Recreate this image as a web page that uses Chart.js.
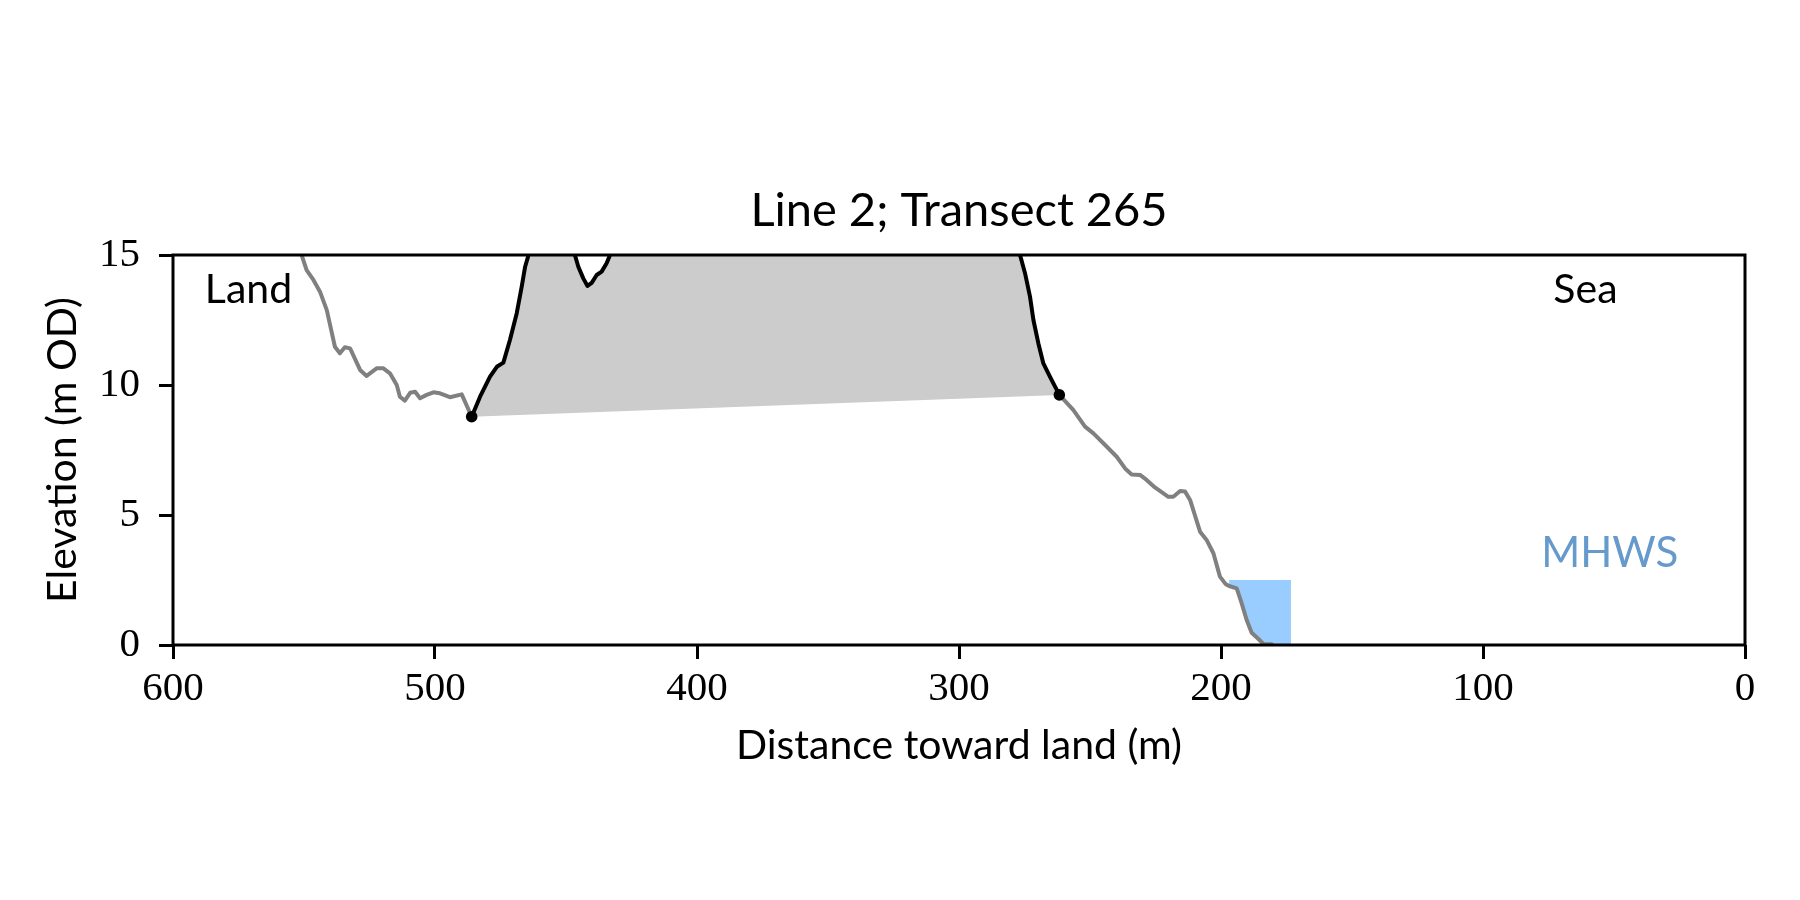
<!DOCTYPE html>
<html>
<head>
<meta charset="utf-8">
<script src="https://cdn.jsdelivr.net/npm/chart.js@4.4.1/dist/chart.umd.min.js"></script>
<style>
  html, body { margin: 0; padding: 0; background: #ffffff; }
  #wrap { width: 1800px; height: 900px; }
</style>
</head>
<body>
<div id="wrap"><canvas id="c" width="1800" height="900"></canvas></div>
<script>
// ---------- data (distance toward land in m, elevation in m OD) ----------
const landX = [550.9, 549.0, 546.4, 543.9, 541.3, 538.2, 536.3, 534.4, 532.4, 528.6, 526.1, 522.3, 519.7, 517.2, 514.6, 513.4, 511.5, 509.5, 507.6, 505.7, 503.2, 500.6, 498.1, 494.3, 489.8, 486.0];
const landY = [15.0, 14.42, 14.04, 13.59, 12.88, 11.47, 11.22, 11.45, 11.41, 10.58, 10.35, 10.64, 10.64, 10.45, 10.0, 9.55, 9.40, 9.70, 9.74, 9.49, 9.62, 9.72, 9.68, 9.53, 9.64, 8.78];

const cliffX = [486.0, 482.8, 479.0, 476.4, 473.9, 471.4, 468.8, 466.9, 465.6, 464.3, 455.0, 446.6, 445.3, 443.4, 441.8, 440.2, 438.3, 436.4, 434.5, 433.2, 420.0, 300.0, 276.7, 274.8, 272.9, 271.6, 269.7, 267.8, 265.3, 261.7];
const cliffY = [8.78, 9.55, 10.32, 10.70, 10.86, 11.73, 12.76, 13.78, 14.55, 15.0, 16.0, 15.0, 14.55, 14.10, 13.81, 13.93, 14.23, 14.36, 14.68, 15.0, 16.0, 16.0, 15.0, 14.30, 13.40, 12.50, 11.60, 10.83, 10.32, 9.62];

const seaX = [261.7, 256.4, 251.9, 248.7, 244.9, 239.8, 236.6, 234.1, 230.9, 228.4, 225.2, 220.1, 218.2, 215.6, 213.7, 211.8, 208.0, 205.5, 202.9, 200.4, 198.3, 196.9, 194.0, 192.1, 190.2, 188.3, 185.7, 183.8, 180.6];
const seaY = [9.62, 9.04, 8.40, 8.14, 7.76, 7.24, 6.79, 6.56, 6.54, 6.35, 6.06, 5.70, 5.70, 5.92, 5.90, 5.58, 4.36, 4.04, 3.53, 2.63, 2.35, 2.27, 2.18, 1.60, 0.96, 0.47, 0.23, 0.04, 0.03];

const toeX = [486.0, 261.7];   // cliff toe points (dots)
const toeY = [8.78, 9.62];

const mhwsX = [196.9, 173.3];  // MHWS water level extent
const mhwsY = [2.5, 2.5];

const xTicks = [600, 500, 400, 300, 200, 100, 0];
const yTicks = [0, 5, 10, 15];

const titleText = 'Line 2; Transect 265';
const xLabel = 'Distance toward land (m)';
const yLabel = 'Elevation (m OD)';

// ---------- helpers ----------
const pts = (xs, ys) => xs.map((x, i) => ({x: x, y: ys[i]}));
const seabedX = seaX.filter(x => x <= mhwsX[0]).concat([mhwsX[1]]);
const seabedY = seaY.filter((y, i) => seaX[i] <= mhwsX[0]).concat([0]);

const SANS = 'Lato, "Open Sans", sans-serif';
const SERIF = '"Liberation Serif", "DejaVu Serif", serif';

const framePlugin = {
  id: 'frame',
  afterDatasetsDraw(chart) {
    const {ctx, chartArea: a} = chart;
    ctx.save();
    ctx.strokeStyle = '#000';
    ctx.lineWidth = 3;
    ctx.strokeRect(a.left, a.top, a.right - a.left, a.bottom - a.top);
    const w = a.right - a.left, h = a.bottom - a.top;
    // title centred over the axes
    ctx.font = '47px ' + SANS;
    ctx.textAlign = 'center';
    ctx.textBaseline = 'middle';
    ctx.fillStyle = '#000';
    ctx.fillText(titleText, (a.left + a.right) / 2, a.top - 44);
    // annotations
    ctx.font = '41px ' + SANS;
    ctx.textBaseline = 'alphabetic';
    ctx.fillText('Land', a.left + 0.048 * w, a.top + 0.123 * h);
    ctx.fillText('Sea', a.left + 0.8985 * w, a.top + 0.123 * h);
    ctx.fillStyle = '#6699cc';
    ctx.font = '42px ' + SANS;
    ctx.fillText('MHWS', a.left + 0.914 * w, a.top + 0.80 * h);
    ctx.restore();
  }
};

const none = 'rgba(0,0,0,0)';

new Chart(document.getElementById('c'), {
  type: 'line',
  data: {
    datasets: [
      { // 0: chord joining the cliff toes (lower edge of grey fill)
        data: pts(toeX, toeY), borderColor: none, borderWidth: 1, pointRadius: 0,
        fill: false, order: 9, clip: 0
      },
      { // 1: cliff profile
        data: pts(cliffX, cliffY), borderColor: '#000000', borderWidth: 4, pointRadius: 0,
        fill: {target: 0, above: '#cccccc', below: '#cccccc'}, order: 3, clip: 0
      },
      { // 2: land profile
        data: pts(landX, landY), borderColor: '#808080', borderWidth: 4, pointRadius: 0,
        fill: false, order: 4, clip: 0
      },
      { // 3: sea profile
        data: pts(seaX, seaY), borderColor: '#808080', borderWidth: 4, pointRadius: 0,
        fill: false, order: 4, clip: 0
      },
      { // 4: seabed below MHWS (invisible)
        data: pts(seabedX, seabedY), borderColor: none, borderWidth: 1, pointRadius: 0,
        fill: false, order: 10, clip: 0
      },
      { // 5: MHWS level, filled down to the seabed
        data: pts(mhwsX, mhwsY), borderColor: none, borderWidth: 1, pointRadius: 0,
        fill: {target: 4, above: '#99ccff', below: '#99ccff'}, order: 8, clip: 0
      },
      { // 6: cliff toe dots
        data: pts(toeX, toeY), showLine: false, pointRadius: 5.8, pointBorderWidth: 0,
        pointBackgroundColor: '#000000', borderColor: none, order: 0, clip: 0
      }
    ]
  },
  options: {
    responsive: false,
    animation: false,
    devicePixelRatio: 1,
    layout: { padding: {top: 255, left: 0, right: 55, bottom: 0} },
    plugins: {
      legend: { display: false },
      tooltip: { enabled: false },
      title: { display: false }
    },
    elements: { line: { tension: 0, borderJoinStyle: 'round', borderCapStyle: 'round' } },
    scales: {
      x: {
        type: 'linear', min: 0, max: 600, reverse: true,
        afterBuildTicks(s) { s.ticks = xTicks.map(v => ({value: v})); },
        afterFit(s) { s.height = 255; },
        grid: { drawOnChartArea: false, drawTicks: true, tickLength: 14, tickWidth: 3, tickColor: '#000' },
        border: { display: false },
        ticks: { color: '#000', font: {family: SERIF, size: 41}, padding: 6, maxRotation: 0 },
        title: { display: true, text: xLabel, color: '#000', font: {family: SANS, size: 41}, padding: {top: 0, bottom: 130} }
      },
      y: {
        type: 'linear', min: 0, max: 15,
        afterBuildTicks(s) { s.ticks = yTicks.map(v => ({value: v})); },
        afterFit(s) { s.width = 173; },
        grid: { drawOnChartArea: false, drawTicks: true, tickLength: 14, tickWidth: 3, tickColor: '#000' },
        border: { display: false },
        ticks: { color: '#000', font: {family: SERIF, size: 41}, padding: 19 },
        title: { display: true, text: yLabel, color: '#000', font: {family: SANS, size: 41}, padding: {top: 38, bottom: 0} }
      }
    }
  },
  plugins: [framePlugin]
});
</script>
</body>
</html>
